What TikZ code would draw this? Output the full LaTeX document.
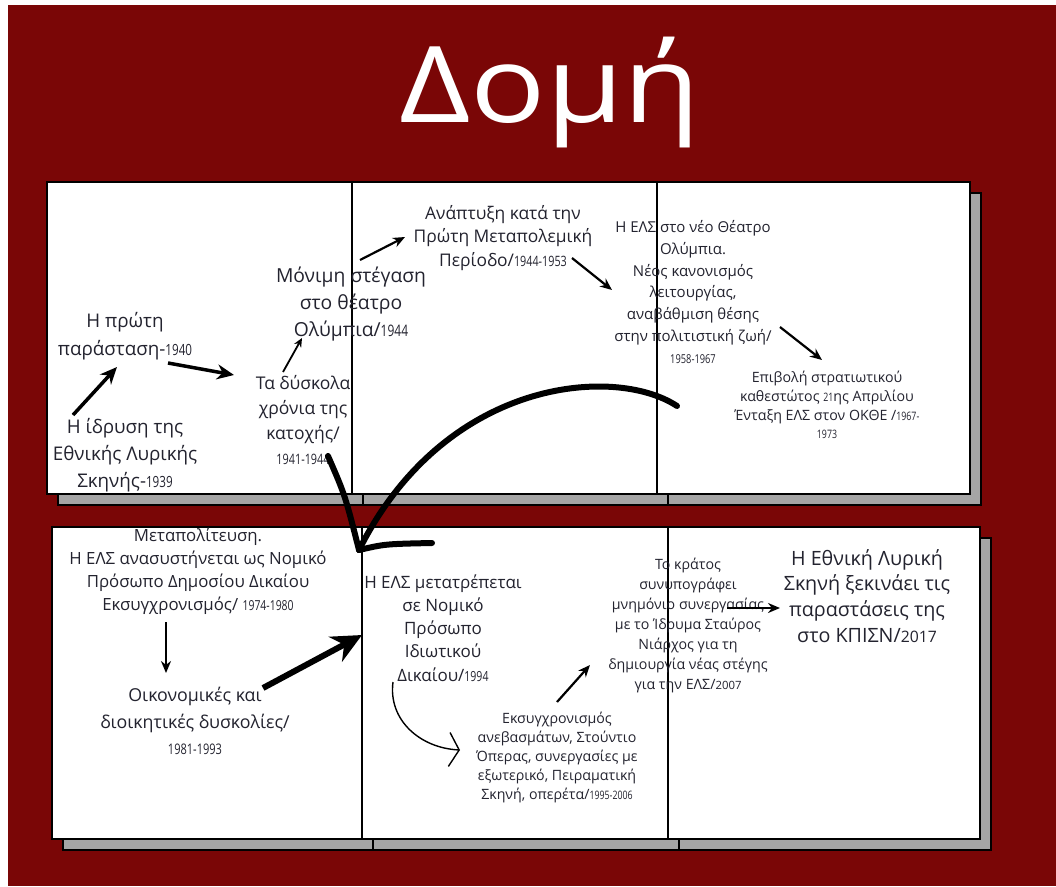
\documentclass[tikz,border=0pt]{standalone}
\usepackage{fontspec}
\setmainfont{Open Sans}
\usetikzlibrary{arrows.meta}
\definecolor{bgred}{HTML}{7A0606}
\definecolor{shadowgray}{HTML}{A5A5A5}
\definecolor{txt}{HTML}{23232F}
\newcommand{\yr}[1]{\scalebox{0.62}[0.82]{#1}}
\newcommand{\yrb}[1]{\scalebox{0.8}{#1}}
\tikzset{
  lbl/.style={align=center, inner sep=0pt, text=txt},
  page/.style={draw=black, line width=1.6pt, fill=white},
  shadowpage/.style={draw=black, line width=1.4pt, fill=shadowgray},
  thin/.style={line width=2.2pt, -{Stealth[length=12pt,width=10pt]}},
  thick/.style={line width=3.5pt, -{Stealth[length=17pt,width=15pt]}},
  heavy/.style={line width=6pt, -{Stealth[length=30pt,width=28pt]}},
}
\begin{document}
\begin{tikzpicture}[x=1pt,y=-1pt]
\useasboundingbox (0,0) rectangle (1056,886);
\fill[white] (0,0) rectangle (1056,886);
\fill[bgred] (8,5) rectangle (1056,886);
% title
\node[text=white, anchor=base, inner sep=0pt, font={\fontsize{106}{110}\selectfont}] (title) at (550,122) {\scalebox{1.18}[1]{Δομή}};
% top row shadows and pages
\draw[shadowpage] (58,193) rectangle (363,505);
\draw[shadowpage] (363,193) rectangle (668,505);
\draw[shadowpage] (668,193) rectangle (981,505);
\draw[page] (47,182) rectangle (352,494);
\draw[page] (352,182) rectangle (657,494);
\draw[page] (657,182) rectangle (970,494);
% bottom row
\draw[shadowpage] (63,538) rectangle (373,850);
\draw[shadowpage] (373,538) rectangle (679,850);
\draw[shadowpage] (679,538) rectangle (991,850);
\draw[page] (52,527) rectangle (362,839);
\draw[page] (362,527) rectangle (668,839);
\draw[page] (668,527) rectangle (980,839);

% texts top
\node[lbl, font={\fontsize{18.8}{28}\selectfont}] (n1) at (125,336) {Η πρώτη\\παράσταση-\yr{1940}};
\node[lbl, font={\fontsize{18.8}{27}\selectfont}] (n2) at (125,455) {Η ίδρυση της\\Εθνικής Λυρικής\\Σκηνής-\yr{1939}};
\node[lbl, font={\fontsize{17.5}{25}\selectfont}] (n3) at (303,420) {Τα δύσκολα\\χρόνια της\\κατοχής/\\\yr{1941-1944}};
\node[lbl, font={\fontsize{19.3}{27}\selectfont}] (n4) at (351,304) {Μόνιμη στέγαση\\στο θέατρο\\Ολύμπια/\yr{1944}};
\node[lbl, font={\fontsize{17.4}{23.5}\selectfont}] (n5) at (503,238) {Ανάπτυξη κατά την\\Πρώτη Μεταπολεμική\\Περίοδο/\yr{1944-1953}};
\node[lbl, font={\fontsize{15}{21.7}\selectfont}] (n6) at (693,292) {Η ΕΛΣ στο νέο Θέατρο\\Ολύμπια.\\Νέος κανονισμός\\λειτουργίας,\\αναβάθμιση θέσης\\στην πολιτιστική ζωή/\\\yr{1958-1967}};
\node[lbl, font={\fontsize{14.2}{18.7}\selectfont}] (n7) at (827,405) {Επιβολή στρατιωτικού\\καθεστώτος \yr{21}ης Απριλίου\\Ένταξη ΕΛΣ στον ΟΚΘΕ /\yr{1967-}\\\yr{1973}};
% texts bottom
\node[lbl, font={\fontsize{16.8}{23}\selectfont}] (n8) at (198,571) {Μεταπολίτευση.\\Η ΕΛΣ ανασυστήνεται ως Νομικό\\Πρόσωπο Δημοσίου Δικαίου\\Εκσυγχρονισμός/ \yr{1974-1980}};
\node[lbl, font={\fontsize{17.8}{26.5}\selectfont}] (n9) at (195,721) {Οικονομικές και\\διοικητικές δυσκολίες/\\\yr{1981-1993}};
\node[lbl, font={\fontsize{17}{23.2}\selectfont}] (n10) at (443,628) {Η ΕΛΣ μετατρέπεται\\σε Νομικό\\Πρόσωπο\\Ιδιωτικού\\Δικαίου/\yr{1994}};
\node[lbl, font={\fontsize{14.2}{19}\selectfont}] (n11) at (557,757) {Εκσυγχρονισμός\\ανεβασμάτων, Στούντιο\\Όπερας, συνεργασίες με\\εξωτερικό, Πειραματική\\Σκηνή, οπερέτα/\yr{1995-2006}};
\node[lbl, font={\fontsize{14.2}{20}\selectfont}] (n12) at (688,625) {Το κράτος\\συνυπογράφει\\μνημόνιο συνεργασίας\\με το Ίδρυμα Σταύρος\\Νιάρχος για τη\\δημιουργία νέας στέγης\\για την ΕΛΣ/\yrb{2007}};
\node[lbl, font={\fontsize{19.7}{25.7}\selectfont}] (n13) at (867,596) {Η Εθνική Λυρική\\Σκηνή ξεκινάει τις\\παραστάσεις της\\στο ΚΠΙΣΝ/\yrb{2017}};

% connector end points
\coordinate (a1s) at (73,415);  \coordinate (a1e) at (117,367);
\coordinate (a2s) at (168,363); \coordinate (a2e) at (234,375);
\coordinate (a3s) at (283,372); \coordinate (a3e) at (302,338);
\coordinate (a4s) at (360,260); \coordinate (a4e) at (405,237);
\coordinate (a5s) at (572,258); \coordinate (a5e) at (612,290);
\coordinate (a6s) at (780,327); \coordinate (a6e) at (822,360);
\coordinate (a7s) at (166,622); \coordinate (a7e) at (166,673);
\coordinate (a8s) at (263,688); \coordinate (a8e) at (362,635);
\coordinate (a9s) at (393,682); \coordinate (a9e) at (460,750);
\coordinate (a10s) at (557,702); \coordinate (a10e) at (590,665);
\coordinate (a11s) at (727,608); \coordinate (a11e) at (780,608);
\coordinate (bigs) at (677,406); \coordinate (bigtip) at (359,550);
\coordinate (barbA) at (328,456); \coordinate (barbB) at (432,543);

\draw[thick] (a1s) -- (a1e);
\draw[thick] (a2s) -- (a2e);
\draw[line width=1.8pt, -{Stealth[length=9pt,width=8pt]}] (a3s) -- (a3e);
\draw[thin] (a4s) -- (a4e);
\draw[thin] (a5s) -- (a5e);
\draw[thin] (a6s) -- (a6e);
\draw[thin] (a7s) -- (a7e);
\draw[heavy] (a8s) -- (a8e);
\draw[line width=1.4pt, -{Straight Barb[length=10pt,width=34pt]}] (a9s) .. controls (388,720) and (420,748) .. (a9e);
\draw[thin] (a10s) -- (a10e);
\draw[thin] (a11s) -- (a11e);
% big hand-drawn arrow
\draw[line width=6pt, line cap=round] (bigs) .. controls (615,365) and (445,378) .. (bigtip);
\draw[line width=6pt, line cap=round] (barbA) .. controls (345,495) .. (bigtip);
\draw[line width=6pt, line cap=round] (bigtip) .. controls (385,544) .. (barbB);
\end{tikzpicture}
\end{document}
